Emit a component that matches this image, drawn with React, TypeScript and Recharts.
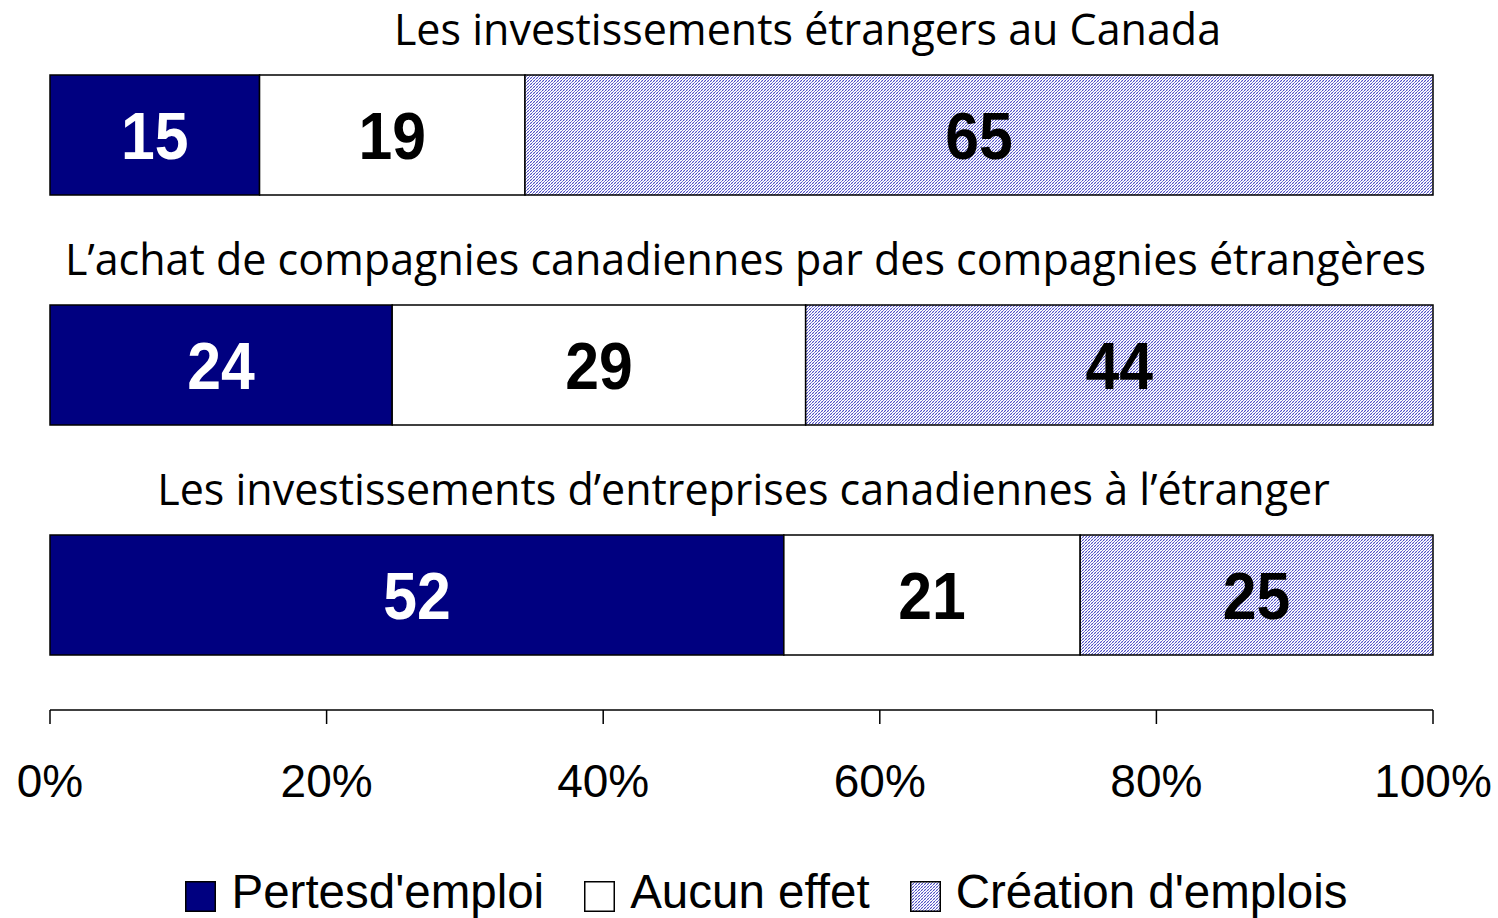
import React from "react";
import { BarChart, Bar, XAxis, YAxis, LabelList } from "recharts";

const categories = [
  "Les investissements étrangers au Canada",
  "L\u2019achat de compagnies canadiennes par des compagnies étrangères",
  "Les investissements d\u2019entreprises canadiennes à l\u2019étranger",
];
const perteValues = [15, 24, 52];
const aucunValues = [19, 29, 21];
const creationValues = [65, 44, 25];
const xTicks = [0, 0.2, 0.4, 0.6, 0.8, 1];
const seriesNames = ["Pertesd'emploi", "Aucun effet", "Création d'emplois"];

const data = categories.map((name, i) => ({
  name,
  perte: perteValues[i],
  aucun: aucunValues[i],
  creation: creationValues[i],
}));

const NAVY = "#000080";
const titleOffsets = [66, 4, 2];

const TitleLabel = (props: any) => {
  const { y, value, index } = props;
  return (
    <text
      x={741.5 + (titleOffsets[index] || 0)}
      y={y - 30}
      textAnchor="middle"
      fontFamily="'Open Sans', sans-serif"
      fontSize={43}
      fill="#000"
    >
      {value}
    </text>
  );
};

const makeLabel = (color: string) => (props: any) => {
  const { x, y, width, height, value } = props;
  const cx = x + width / 2;
  const cy = y + height / 2;
  return (
    <text
      transform={`translate(${cx},${cy + 24}) scale(0.92,1)`}
      textAnchor="middle"
      fontFamily="'Liberation Sans', Arial, sans-serif"
      fontWeight="bold"
      fontSize={66}
      fill={color}
    >
      {value}
    </text>
  );
};

const HatchDefs = ({ id }: { id: string }) => (
  <defs>
    <pattern id={id} patternUnits="userSpaceOnUse" width="3" height="3">
      <rect width="3" height="3" fill="#ffffff" />
      <path d="M-1,1 l2,-2 M0,3 l3,-3 M2,4 l2,-2" stroke="#4e4ec4" strokeWidth="1" />
      <path d="M0,0 l3,3" stroke="#a8a8e8" strokeWidth="0.5" />
    </pattern>
  </defs>
);

const LegendBox = () => {
  const fills = [NAVY, "#ffffff", "url(#hatchLegend)"];
  return (
    <div
      style={{
        position: "absolute",
        left: 0,
        top: 866,
        width: 1498,
        display: "flex",
        justifyContent: "center",
        paddingLeft: 35,
        boxSizing: "border-box",
        gap: 40,
        fontFamily: "'Liberation Sans', Arial, sans-serif",
        fontSize: 47.5,
        lineHeight: "52px",
        color: "#000",
      }}
    >
      {seriesNames.map((n, i) => (
        <div key={n} style={{ display: "flex", alignItems: "center" }}>
          <svg width={31} height={31} style={{ marginRight: 15, marginTop: 8 }}>
            {i === 2 && <HatchDefs id="hatchLegend" />}
            <rect x={0.75} y={0.75} width={29.5} height={29.5} fill={fills[i]} stroke="#000" strokeWidth={1.5} />
          </svg>
          <span>{n}</span>
        </div>
      ))}
    </div>
  );
};

export default function App() {
  return (
    <div style={{ position: "absolute", left: 0, top: 0, width: 1498, height: 918, background: "#fff" }}>
      <BarChart
        width={1498}
        height={918}
        data={data}
        layout="vertical"
        stackOffset="expand"
        margin={{ top: 20, right: 65, bottom: 0, left: 50 }}
        barSize={120}
      >
        <HatchDefs id="hatchMain" />
        <XAxis
          type="number"
          domain={[0, 1]}
          ticks={xTicks}
          tickFormatter={(v: number) => `${Math.round(v * 100)}%`}
          height={208}
          tickSize={14}
          tickMargin={40}
          axisLine={{ stroke: "#000", strokeWidth: 1.5 }}
          tickLine={{ stroke: "#000", strokeWidth: 1.5 }}
          tick={{ fill: "#000", fontSize: 46, fontFamily: "'Liberation Sans', Arial, sans-serif" }}
          interval={0}
        />
        <YAxis type="category" dataKey="name" width={0} hide />
        <Bar dataKey="perte" stackId="a" fill={NAVY} stroke="#000" strokeWidth={1.5} isAnimationActive={false} name={seriesNames[0]}>
          <LabelList dataKey="perte" content={makeLabel("#ffffff")} />
          <LabelList dataKey="name" content={TitleLabel} />
        </Bar>
        <Bar dataKey="aucun" stackId="a" fill="#ffffff" stroke="#000" strokeWidth={1.5} isAnimationActive={false} name={seriesNames[1]}>
          <LabelList dataKey="aucun" content={makeLabel("#000000")} />
        </Bar>
        <Bar dataKey="creation" stackId="a" fill="url(#hatchMain)" stroke="#000" strokeWidth={1.5} isAnimationActive={false} name={seriesNames[2]}>
          <LabelList dataKey="creation" content={makeLabel("#000000")} />
        </Bar>
      </BarChart>
      <LegendBox />
    </div>
  );
}
